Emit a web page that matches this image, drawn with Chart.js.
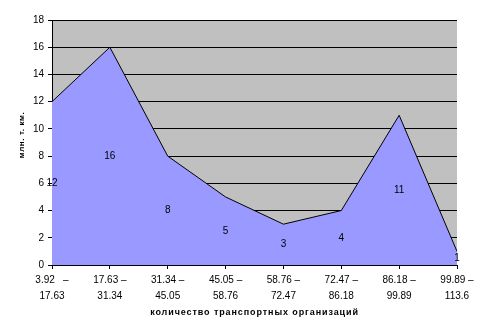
<!DOCTYPE html>
<html>
<head>
<meta charset="utf-8">
<script src="https://cdn.jsdelivr.net/npm/chart.js@4/dist/chart.umd.min.js"></script>
<style>
  html, body { margin: 0; padding: 0; background: #fff; }
  canvas { display: block; }
</style>
</head>
<body>
<canvas id="c" width="489" height="335"></canvas>
<script>
// Interval categories (two-line tick labels)
const categories = [
  ['3.92   \u2013', '17.63'],
  ['17.63 \u2013', '31.34'],
  ['31.34 \u2013', '45.05'],
  ['45.05 \u2013', '58.76'],
  ['58.76 \u2013', '72.47'],
  ['72.47 \u2013', '86.18'],
  ['86.18 \u2013', '99.89'],
  ['99.89 \u2013', '113.6']
];
// Values per interval
const values = [12, 16, 8, 5, 3, 4, 11, 1];
// Value axis range
const yMin = 0, yMax = 18, yStep = 2;
// Axis titles
const xTitle = 'количество транспортных организаций';
const yTitle = 'млн. т. км.';

const FONT = '"Liberation Sans", Arial, sans-serif';

// Gray plot background
const plotBg = {
  id: 'plotBg',
  beforeDraw(chart) {
    const { ctx, chartArea: a } = chart;
    ctx.save();
    ctx.fillStyle = '#C0C0C0';
    ctx.fillRect(a.left, a.top, a.right - a.left, a.bottom - a.top);
    ctx.restore();
  }
};

// Value labels placed at half height of each point
const midLabels = {
  id: 'midLabels',
  afterDatasetsDraw(chart) {
    const { ctx, scales: { x, y } } = chart;
    const data = chart.data.datasets[0].data;
    ctx.save();
    ctx.font = '10px ' + FONT;
    ctx.fillStyle = '#000';
    ctx.textAlign = 'center';
    ctx.textBaseline = 'middle';
    data.forEach((v, i) => {
      ctx.fillText(String(v), x.getPixelForValue(i), y.getPixelForValue(v / 2));
    });
    ctx.restore();
  }
};

// Spaced-out bold axis titles
const axisTitles = {
  id: 'axisTitles',
  afterDraw(chart) {
    const { ctx, chartArea: a } = chart;
    ctx.save();
    ctx.fillStyle = '#000';
    ctx.textAlign = 'center';
    ctx.textBaseline = 'middle';

    ctx.font = 'bold 9px ' + FONT;
    ctx.letterSpacing = '0.9px';
    ctx.fillText(xTitle, (a.left + a.right) / 2, 313);

    ctx.font = 'bold 8px ' + FONT;
    ctx.letterSpacing = '0.6px';
    ctx.translate(22, 135);
    ctx.rotate(-Math.PI / 2);
    ctx.fillText(yTitle, 0, 0);
    ctx.restore();
  }
};

new Chart(document.getElementById('c'), {
  type: 'line',
  data: {
    labels: categories,
    datasets: [{
      data: values,
      fill: 'origin',
      backgroundColor: '#9999FF',
      borderColor: '#000',
      borderWidth: 1,
      tension: 0,
      pointRadius: 0,
      pointHoverRadius: 0
    }]
  },
  options: {
    responsive: false,
    animation: false,
    events: [],
    layout: { padding: { top: 20, right: 32, left: 0, bottom: 0 } },
    plugins: {
      legend: { display: false },
      tooltip: { enabled: false }
    },
    scales: {
      x: {
        offset: false,
        grid: {
          drawOnChartArea: false,
          drawTicks: true,
          tickLength: 4,
          color: '#000'
        },
        border: { display: true, color: '#000', width: 1 },
        ticks: {
          autoSkip: false,
          maxRotation: 0,
          padding: 3,
          color: '#000',
          font: { family: FONT, size: 10, lineHeight: 1.6 }
        },
        afterFit(s) { s.height = 70; }
      },
      y: {
        min: yMin,
        max: yMax,
        grid: {
          color: '#000',
          lineWidth: 1,
          drawTicks: true,
          tickLength: 4
        },
        border: { display: true, color: '#000', width: 1 },
        ticks: {
          stepSize: yStep,
          padding: 4,
          color: '#000',
          font: { family: FONT, size: 10 }
        },
        afterFit(s) { s.width = 52; }
      }
    }
  },
  plugins: [plotBg, midLabels, axisTitles]
});
</script>
</body>
</html>
